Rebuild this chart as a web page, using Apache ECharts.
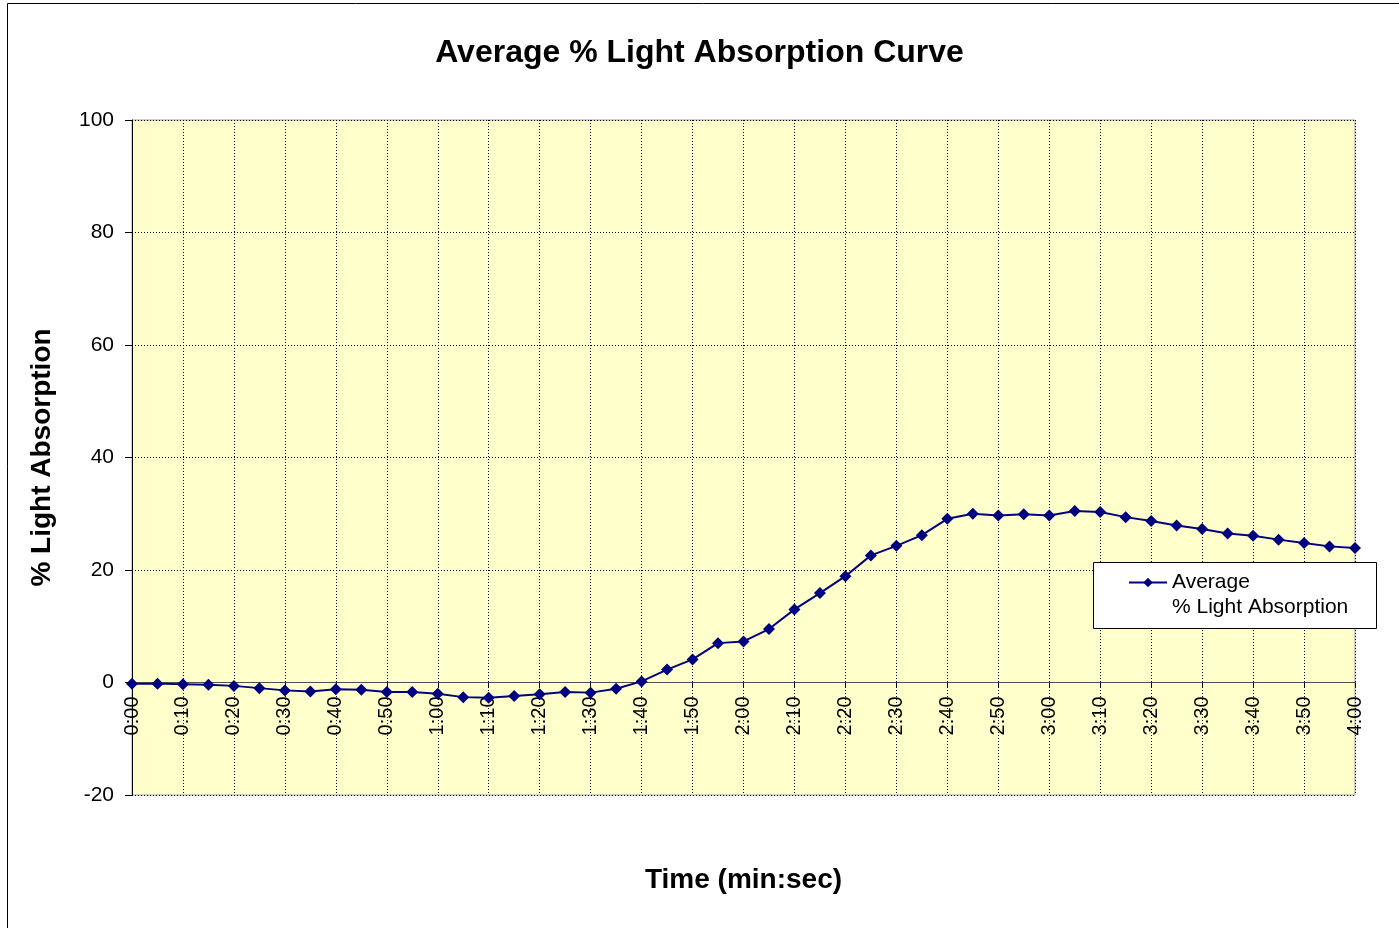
<!DOCTYPE html>
<html>
<head>
<meta charset="utf-8">
<script src="https://cdn.jsdelivr.net/npm/echarts@6/dist/echarts.min.js"></script>
<style>
  html, body { margin: 0; padding: 0; background: #fff; }
  #chart { width: 1399px; height: 928px; }
</style>
</head>
<body>
<div id="chart"></div>
<script>
// time labels, every 5 s
const timeLabels = [
    '0:00', '0:05', '0:10', '0:15', '0:20', '0:25', '0:30', '0:35', '0:40', '0:45',
    '0:50', '0:55', '1:00', '1:05', '1:10', '1:15', '1:20', '1:25', '1:30', '1:35',
    '1:40', '1:45', '1:50', '1:55', '2:00', '2:05', '2:10', '2:15', '2:20', '2:25',
    '2:30', '2:35', '2:40', '2:45', '2:50', '2:55', '3:00', '3:05', '3:10', '3:15',
    '3:20', '3:25', '3:30', '3:35', '3:40', '3:45', '3:50', '3:55', '4:00'
];
// average % light absorption
const avgAbsorption = [
    -0.2, -0.2, -0.3, -0.4, -0.6, -1.0, -1.4, -1.6, -1.2, -1.3,
    -1.7, -1.7, -2.0, -2.6, -2.7, -2.4, -2.1, -1.7, -1.8, -1.1,
    0.2, 2.3, 4.1, 7.0, 7.3, 9.5, 13.0, 15.9, 18.9, 22.6,
    24.3, 26.2, 29.1, 30.0, 29.7, 29.9, 29.7, 30.5, 30.3, 29.4,
    28.7, 27.9, 27.3, 26.5, 26.1, 25.4, 24.8, 24.2, 23.9
];
const yTicks = { min: -20, max: 100, interval: 20 };

const fontFam = 'Liberation Sans, Arial, sans-serif';
const chart = echarts.init(document.getElementById('chart'));

chart.setOption({
    backgroundColor: '#fff',
    animation: false,
    textStyle: { fontFamily: fontFam },
    title: {
        text: 'Average % Light Absorption Curve',
        left: 'center', top: 32,
        textStyle: { fontSize: 32, fontWeight: 'bold', color: '#000', fontFamily: fontFam }
    },
    graphic: [
        {   // outer chart frame
            type: 'rect', silent: true, z: -10,
            shape: { x: 7.5, y: 3.5, width: 1400, height: 940 },
            style: { fill: 'none', stroke: '#000', lineWidth: 1 }
        },
        {   // legend box
            type: 'rect', silent: true, z: 3,
            shape: { x: 1093.5, y: 562.5, width: 283, height: 66 },
            style: { fill: '#fff', stroke: '#000', lineWidth: 1 }
        }
    ],
    legend: {
        left: 1128, top: 545,
        padding: 0,
        z: 5,
        itemWidth: 38, itemHeight: 12, itemGap: 0,
        // blank first line keeps the marker level with "Average"
        formatter: () => ' \nAverage\n% Light Absorption',
        textStyle: { fontSize: 21, color: '#000', lineHeight: 25, fontFamily: fontFam },
        data: ['avg']
    },
    grid: {
        left: 132, right: 44, top: 120, bottom: 133,
        outerBoundsMode: 'none',
        show: true, backgroundColor: '#ffffcc', borderColor: '#a0a0a0', borderWidth: 1
    },
    xAxis: {
        type: 'category',
        data: timeLabels,
        boundaryGap: false,
        name: 'Time (min:sec)',
        nameLocation: 'middle',
        nameGap: 184,
        nameTextStyle: { fontSize: 28, fontWeight: 'bold', color: '#000', fontFamily: fontFam },
        offset: -112.5,
        axisLine: { onZero: false, lineStyle: { color: '#505050', width: 1 } },
        axisTick: { show: true, interval: 1, length: 5, lineStyle: { color: '#000' } },
        axisLabel: { interval: 1, rotate: 90, fontSize: 20, color: '#000', margin: 14, fontFamily: fontFam },
        splitLine: { show: true, interval: 1, lineStyle: { color: '#000', type: [1, 2], width: 1 } }
    },
    yAxis: {
        type: 'value',
        min: yTicks.min, max: yTicks.max, interval: yTicks.interval,
        name: '% Light Absorption',
        nameLocation: 'middle',
        nameGap: 76,
        nameTextStyle: { fontSize: 28, fontWeight: 'bold', color: '#000', fontFamily: fontFam },
        axisLine: { show: true, lineStyle: { color: '#000', width: 1 } },
        axisTick: { show: true, length: 7, lineStyle: { color: '#000' } },
        axisLabel: { fontSize: 21, color: '#000', margin: 18, fontFamily: fontFam },
        splitLine: { show: true, lineStyle: { color: '#000', type: [1, 2], width: 1 } }
    },
    series: [{
        name: 'avg',
        type: 'line',
        data: avgAbsorption,
        symbol: 'diamond',
        symbolSize: 12,
        color: '#000080',
        lineStyle: { color: '#000080', width: 2 },
        itemStyle: { color: '#000080' },
        z: 2
    }]
});
</script>
</body>
</html>
